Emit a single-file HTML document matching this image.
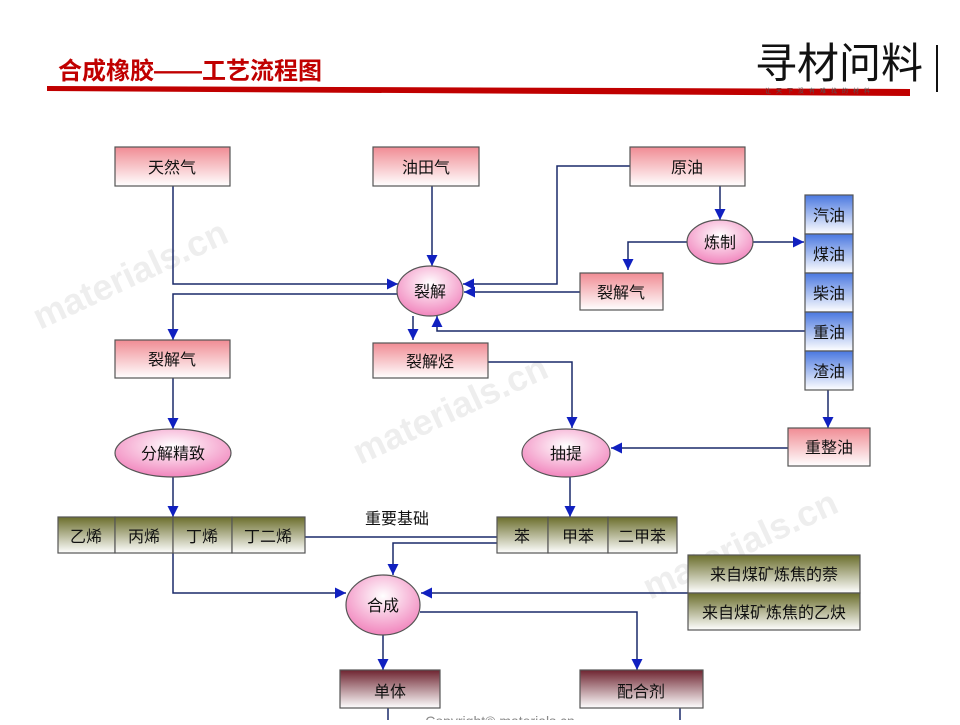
<!DOCTYPE html>
<html><head><meta charset="utf-8"><style>
body{margin:0;width:960px;height:720px;overflow:hidden;background:#fff;font-family:"Liberation Sans","Noto Sans CJK SC",sans-serif}
svg text{font-family:"Liberation Sans","Noto Sans CJK SC",sans-serif}
</style></head><body>
<svg width="960" height="720" viewBox="0 0 960 720" xmlns="http://www.w3.org/2000/svg">
<defs>
<linearGradient id="pk" x1="0" y1="0" x2="0" y2="1"><stop offset="0" stop-color="#f08c94"/><stop offset="1" stop-color="#fff"/></linearGradient>
<linearGradient id="bl" x1="0" y1="0" x2="0" y2="1"><stop offset="0" stop-color="#4a78e0"/><stop offset="1" stop-color="#fff"/></linearGradient>
<linearGradient id="ol" x1="0" y1="0" x2="0" y2="1"><stop offset="0" stop-color="#6b6e2c"/><stop offset="1" stop-color="#fff"/></linearGradient>
<linearGradient id="mr" x1="0" y1="0" x2="0" y2="1"><stop offset="0" stop-color="#6e2430"/><stop offset="1" stop-color="#fff"/></linearGradient>
<radialGradient id="el" cx="0.5" cy="0.35" r="0.7"><stop offset="0" stop-color="#fff"/><stop offset="1" stop-color="#f07cb8"/></radialGradient>
<marker id="a" viewBox="0 0 10 10" refX="10" refY="5" markerWidth="11" markerHeight="11" orient="auto" markerUnits="userSpaceOnUse"><path d="M0,0L10,5L0,10z" fill="#1020c0"/></marker>
</defs>
<!-- header -->
<text x="58" y="79" font-size="24" font-weight="bold" fill="#c00000">合成橡胶——工艺流程图</text>
<polygon points="47,86 910,89 910,96 47,91" fill="#c00000"/>
<text x="755" y="78" font-size="42" fill="#111" font-family="'Noto Serif CJK SC',serif">寻材问料</text>
<text x="765" y="93" font-size="6" fill="#555" letter-spacing="5">让天下没有难找的材料</text>
<line x1="937" y1="45" x2="937" y2="92" stroke="#111" stroke-width="2"/>
<!-- watermark -->
<g fill="#eeeeee" font-size="36" font-weight="bold">
<text x="40" y="330" transform="rotate(-25 40 330)">materials.cn</text>
<text x="360" y="465" transform="rotate(-25 360 465)">materials.cn</text>
<text x="650" y="600" transform="rotate(-25 650 600)">materials.cn</text>
</g>
<!-- connectors -->
<g stroke="#1a2a6a" stroke-width="1.5" fill="none">
<path d="M173,186V284H398" marker-end="url(#a)"/>
<path d="M432,186V266" marker-end="url(#a)"/>
<path d="M630,166H557V284H463" marker-end="url(#a)"/>
<path d="M720,186V220" marker-end="url(#a)"/>
<path d="M753,242H804" marker-end="url(#a)"/>
<path d="M687,242H628V270" marker-end="url(#a)"/>
<path d="M580,292H464" marker-end="url(#a)"/>
<path d="M805,331H437V316" marker-end="url(#a)"/>
<path d="M398,294H173V340" marker-end="url(#a)"/>
<path d="M413,316V340" marker-end="url(#a)"/>
<path d="M488,362H572V428" marker-end="url(#a)"/>
<path d="M173,378V429" marker-end="url(#a)"/>
<path d="M173,477V517" marker-end="url(#a)"/>
<path d="M828,390V428" marker-end="url(#a)"/>
<path d="M788,448H611" marker-end="url(#a)"/>
<path d="M570,477V517" marker-end="url(#a)"/>
<path d="M305,537H497"/>
<path d="M497,543H393V575" marker-end="url(#a)"/>
<path d="M173,553V593H346" marker-end="url(#a)"/>
<path d="M688,593H421" marker-end="url(#a)"/>
<path d="M420,612H637V670" marker-end="url(#a)"/>
<path d="M383,635V670" marker-end="url(#a)"/>
<path d="M388,708V720M680,708V720"/>
</g>
<!-- boxes -->
<g stroke="#555" stroke-width="1.2" font-size="16" text-anchor="middle" fill="#111">
<rect x="115" y="147" width="115" height="39" fill="url(#pk)"/><text x="172" y="173" stroke="none">天然气</text>
<rect x="373" y="147" width="106" height="39" fill="url(#pk)"/><text x="426" y="173" stroke="none">油田气</text>
<rect x="630" y="147" width="115" height="39" fill="url(#pk)"/><text x="687" y="173" stroke="none">原油</text>
<rect x="805" y="195" width="48" height="39" fill="url(#bl)"/><text x="829" y="221" stroke="none">汽油</text>
<rect x="805" y="234" width="48" height="39" fill="url(#bl)"/><text x="829" y="260" stroke="none">煤油</text>
<rect x="805" y="273" width="48" height="39" fill="url(#bl)"/><text x="829" y="299" stroke="none">柴油</text>
<rect x="805" y="312" width="48" height="39" fill="url(#bl)"/><text x="829" y="338" stroke="none">重油</text>
<rect x="805" y="351" width="48" height="39" fill="url(#bl)"/><text x="829" y="377" stroke="none">渣油</text>
<rect x="580" y="273" width="83" height="37" fill="url(#pk)"/><text x="621" y="298" stroke="none">裂解气</text>
<rect x="115" y="340" width="115" height="38" fill="url(#pk)"/><text x="172" y="365" stroke="none">裂解气</text>
<rect x="373" y="343" width="115" height="35" fill="url(#pk)"/><text x="430" y="367" stroke="none">裂解烃</text>
<rect x="788" y="428" width="82" height="38" fill="url(#pk)"/><text x="829" y="453" stroke="none">重整油</text>
<rect x="58" y="517" width="57" height="36" fill="url(#ol)"/><text x="86" y="542" stroke="none">乙烯</text>
<rect x="115" y="517" width="58" height="36" fill="url(#ol)"/><text x="144" y="542" stroke="none">丙烯</text>
<rect x="173" y="517" width="59" height="36" fill="url(#ol)"/><text x="202" y="542" stroke="none">丁烯</text>
<rect x="232" y="517" width="73" height="36" fill="url(#ol)"/><text x="268" y="542" stroke="none">丁二烯</text>
<rect x="497" y="517" width="51" height="36" fill="url(#ol)"/><text x="522" y="542" stroke="none">苯</text>
<rect x="548" y="517" width="60" height="36" fill="url(#ol)"/><text x="578" y="542" stroke="none">甲苯</text>
<rect x="608" y="517" width="69" height="36" fill="url(#ol)"/><text x="642" y="542" stroke="none">二甲苯</text>
<rect x="688" y="555" width="172" height="38" fill="url(#ol)"/><text x="774" y="580" stroke="none">来自煤矿炼焦的萘</text>
<rect x="688" y="593" width="172" height="37" fill="url(#ol)"/><text x="774" y="618" stroke="none">来自煤矿炼焦的乙炔</text>
<rect x="340" y="670" width="100" height="38" fill="url(#mr)"/><text x="390" y="697" stroke="none">单体</text>
<rect x="580" y="670" width="123" height="38" fill="url(#mr)"/><text x="641" y="697" stroke="none">配合剂</text>
<ellipse cx="720" cy="242" rx="33" ry="22" fill="url(#el)"/><text x="720" y="248" stroke="none">炼制</text>
<ellipse cx="430" cy="291" rx="33" ry="25" fill="url(#el)"/><text x="430" y="297" stroke="none">裂解</text>
<ellipse cx="173" cy="453" rx="58" ry="24" fill="url(#el)"/><text x="173" y="459" stroke="none">分解精致</text>
<ellipse cx="566" cy="453" rx="44" ry="24" fill="url(#el)"/><text x="566" y="459" stroke="none">抽提</text>
<ellipse cx="383" cy="605" rx="37" ry="30" fill="url(#el)"/><text x="383" y="611" stroke="none">合成</text>
</g>
<text x="397" y="524" font-size="16" text-anchor="middle" fill="#111">重要基础</text>
<text x="500" y="726" font-size="14" text-anchor="middle" fill="#888">Copyright© materials.cn</text>
</svg>
</body></html>
